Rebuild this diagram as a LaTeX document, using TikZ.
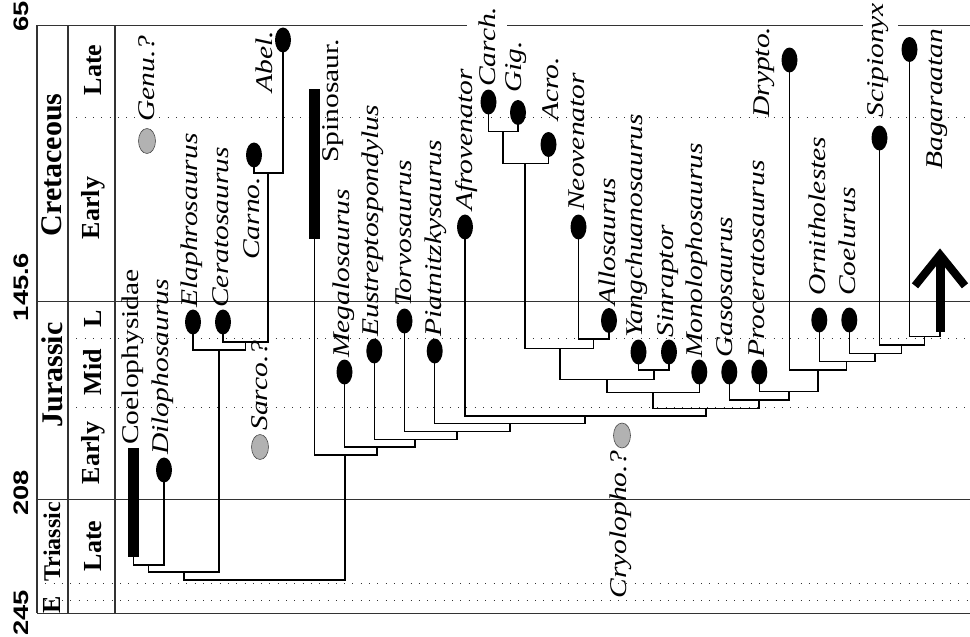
\documentclass[tikz,border=0pt]{standalone}
\usepackage{fontspec}
\setmainfont{Liberation Serif}
\newfontfamily\numfont{Liberation Sans}
\usetikzlibrary{shapes.geometric,calc}
\begin{document}
\begin{tikzpicture}[x=1pt,y=-1pt,
  tstem/.style={line width=1.4pt, line join=miter, line cap=rect},
  oval/.style={ellipse, fill=black, minimum width=16pt, minimum height=25pt, inner sep=0pt},
  goval/.style={ellipse, fill=black!30, draw=black!70, line width=0.6pt, minimum width=17pt, minimum height=25pt, inner sep=0pt},
  cbar/.style={rectangle, fill=black, inner sep=0pt, minimum width=11pt},
  lab/.style={font=\fontsize{24}{24}\selectfont\itshape, rotate=90, xscale=1.23, anchor=west, inner sep=0pt},
  rlab/.style={font=\fontsize{24}{24}\selectfont, rotate=90, xscale=1.23, anchor=west, inner sep=0pt},
  era/.style={font=\fontsize{30}{30}\selectfont\bfseries, rotate=90, inner sep=0pt},
  stage/.style={font=\fontsize{26}{26}\selectfont\bfseries, rotate=90, inner sep=0pt},
  num/.style={font=\fontsize{21}{21}\selectfont\numfont\bfseries, rotate=90, xscale=1.3, inner sep=0pt},
  tline/.style={line width=0.9pt, black!80},
  dline/.style={line width=1pt, dash pattern=on 1pt off 7.3pt, black!80}
]
\useasboundingbox (0,0) rectangle (970,637);
% ---- time grid ----
\draw[tline] (37,25) -- (467,25) (507,25) -- (863,25) (898,25) -- (970,25);
\draw[tline] (37,301) -- (970,301);
\draw[tline] (37,499) -- (970,499);
\draw[tline] (37,613) -- (970,613);
\foreach \yy in {117,338,407} \draw[dline] (68,\yy) -- (970,\yy);
\foreach \yy in {583,600} \draw[dline] (37,\yy) -- (970,\yy);
\draw[tline, line width=1.2pt] (37,25) -- (37,613) (68,25) -- (68,613) (115,25) -- (115,613);
% ---- table text ----
\node[era] (tCre) at (52,165) {Cretaceous};
\node[era] (tJur) at (52,375) {Jurassic};
\node[era, font=\fontsize{24}{24}\selectfont\bfseries] (tTri) at (52,542) {Triassic};
\node[stage] (sLK) at (93,70) {Late};
\node[stage] (sEK) at (93,208) {Early};
\node[stage] (sLJ) at (93,319) {L};
\node[stage] (sMJ) at (93,372) {Mid};
\node[stage] (sEJ) at (93,453) {Early};
\node[stage] (sLT) at (93,546) {Late};
\node[stage] (sET) at (52,605) {E};
\node[num, anchor=east] (n65) at (21,1) {65};
\node[num] (n145) at (21,287) {145.6};
\node[num] (n208) at (21,493) {208};
\node[num, anchor=west] (n245) at (21,636) {245};
% ---- terminals ----
\node[cbar, minimum height=109pt] (coel) at (133.5,502.5) {};
\node[oval] (dilo) at (164,470) {};
\node[oval] (elaphro) at (193,322) {};
\node[oval] (cerato) at (223,322) {};
\node[oval] (carno) at (254,155) {};
\node[oval] (abel) at (283,40) {};
\node[cbar, minimum height=150pt] (spino) at (314.5,164) {};
\node[oval] (mega) at (344.5,372) {};
\node[oval] (eus) at (374.3,351) {};
\node[oval] (torvo) at (404.5,321) {};
\node[oval] (piatn) at (434.7,351) {};
\node[oval] (afro) at (465,227) {};
\node[oval] (carch) at (488.5,102) {};
\node[oval] (gig) at (518,112.5) {};
\node[oval] (acro) at (548.5,144.5) {};
\node[oval] (neo) at (578.5,227) {};
\node[oval] (allo) at (609,320.5) {};
\node[oval] (yang) at (638.5,352) {};
\node[oval] (sinr) at (669,352) {};
\node[oval] (mono) at (699.3,372) {};
\node[oval] (gaso) at (729.3,372) {};
\node[oval] (proc) at (759.3,372) {};
\node[oval] (drypto) at (789.5,60) {};
\node[oval] (ornith) at (819.3,320) {};
\node[oval] (coelu) at (849.3,320) {};
\node[oval] (scip) at (879.5,138) {};
\node[oval] (bagar) at (909.5,49.5) {};
\node[cbar, minimum width=9pt, minimum height=76.7pt] (aves) at (940,293.35) {};
\draw[line width=8pt, line join=miter] ($(aves.north)+(-25,31)$) -- (aves.north) -- ($(aves.north)+(25,31)$);
\node[goval] (genu) at (147,141) {};
\node[goval] (sarco) at (260,447) {};
\node[goval] (cryo) at (622,435.5) {};
% ---- internal nodes ----
\coordinate (nCD) at (148.5,565);
\coordinate (nCA) at (268,173);
\coordinate (nCeA) at (245.5,342);
\coordinate (nCer) at (219,350);
\coordinate (nNeo) at (184,572);
\coordinate (nRoot) at (264,580);
\coordinate (nSp) at (345,455);
\coordinate (nMeg) at (377,447);
\coordinate (nEus) at (415,439.3);
\coordinate (nTor) at (457,431.7);
\coordinate (nPia) at (510,423.3);
\coordinate (nAfr) at (585,416);
\coordinate (nB) at (706,408.3);
\coordinate (nMon) at (653,392.7);
\coordinate (nAl2) at (607,379.3);
\coordinate (nSin) at (654,370);
\coordinate (nCarAl) at (560,348.3);
\coordinate (nAllo) at (593.5,339);
\coordinate (nCarc) at (525,163.3);
\coordinate (nCG) at (503,131.7);
\coordinate (nGas) at (759,400);
\coordinate (nPro) at (789,391.7);
\coordinate (nDry) at (818,370);
\coordinate (nOrn) at (846.7,361.7);
\coordinate (nCoe) at (875,353.3);
\coordinate (nSci) at (901.7,345);
\coordinate (nBag) at (924.3,336.7);
% ---- branches ----
\draw[tstem] (coel.south) |- (nCD) -| (dilo.south);
\draw[tstem] (carno.south) |- (nCA) -| (abel.south);
\draw[tstem] (cerato.south) |- (nCeA) -| (nCA);
\draw[tstem] (elaphro.south) |- (nCer) -| (nCeA);
\draw[tstem] (nCD) |- (nNeo) -| (nCer);
\draw[tstem] (nNeo) |- (nRoot) -| (nSp);
\draw[tstem] (spino.south) |- (nSp) -| (nMeg);
\draw[tstem] (mega.south) |- (nMeg) -| (nEus);
\draw[tstem] (eus.south) |- (nEus) -| (nTor);
\draw[tstem] (torvo.south) |- (nTor) -| (nPia);
\draw[tstem] (piatn.south) |- (nPia) -| (nAfr);
\draw[tstem] (afro.south) |- (nAfr) -| (nB);
\draw[tstem] (nMon) |- (nB) -| (nGas);
\draw[tstem] (nAl2) |- (nMon) -| (mono.south);
\draw[tstem] (nCarAl) |- (nAl2) -| (nSin);
\draw[tstem] (yang.south) |- (nSin) -| (sinr.south);
\draw[tstem] (nCarc) |- (nCarAl) -| (nAllo);
\draw[tstem] (neo.south) |- (nAllo) -| (allo.south);
\draw[tstem] (nCG) |- (nCarc) -| (acro.south);
\draw[tstem] (carch.south) |- (nCG) -| (gig.south);
\draw[tstem] (gaso.south) |- (nGas) -| (nPro);
\draw[tstem] (proc.south) |- (nPro) -| (nDry);
\draw[tstem] (drypto.south) |- (nDry) -| (nOrn);
\draw[tstem] (ornith.south) |- (nOrn) -| (nCoe);
\draw[tstem] (coelu.south) |- (nCoe) -| (nSci);
\draw[tstem] (scip.south) |- (nSci) -| (nBag);
\draw[tstem] (bagar.south) |- (nBag) -| (aves.south);
% ---- labels ----
\node[rlab] (lCoel) at (133,445) {Coelophysidae};
\node[lab] (lDilo) at (163,455) {Dilophosaurus};
\node[lab] (lElap) at (192,308) {Elaphrosaurus};
\node[lab] (lCera) at (221,308) {Ceratosaurus};
\node[lab] (lCarn) at (252,260) {Carno.};
\node[lab] (lAbel) at (264,93) {Abel.};
\node[rlab] (lSpin) at (333,163) {Spinosaur.};
\node[lab] (lMega) at (344,358) {Megalosaurus};
\node[lab] (lEust) at (373,337) {Eustreptospondylus};
\node[lab] (lTorv) at (404,307) {Torvosaurus};
\node[lab] (lPiat) at (436,337) {Piatnitzkysaurus};
\node[lab] (lAfro) at (467,211) {Afrovenator};
\node[lab] (lCarc) at (487,87) {Carch.};
\node[lab] (lGig) at (516,93) {Gig.};
\node[lab] (lAcro) at (551,121) {Acro.};
\node[lab] (lNeov) at (577,211) {Neovenator};
\node[lab] (lAllo) at (607,306) {Allosaurus};
\node[lab] (lYang) at (637,338) {Yangchuanosaurus};
\node[lab] (lSinr) at (668,338) {Sinraptor};
\node[lab] (lMono) at (697,358) {Monolophosaurus};
\node[lab] (lGaso) at (725,358) {Gasosaurus};
\node[lab] (lProc) at (757,358) {Proceratosaurus};
\node[lab] (lDryp) at (764,118) {Drypto.};
\node[lab] (lOrni) at (817,296) {Ornitholestes};
\node[lab] (lCoeu) at (847,296) {Coelurus};
\node[lab] (lScip) at (878,118) {Scipionyx};
\node[lab] (lBaga) at (937,170) {Bagaraatan};
\node[lab] (lGenu) at (147,122) {Genu.?};
\node[lab] (lSarc) at (260,431) {Sarco.?};
\node[lab, anchor=east] (lCryo) at (621,450) {Cryolopho.?};
\end{tikzpicture}
\end{document}
